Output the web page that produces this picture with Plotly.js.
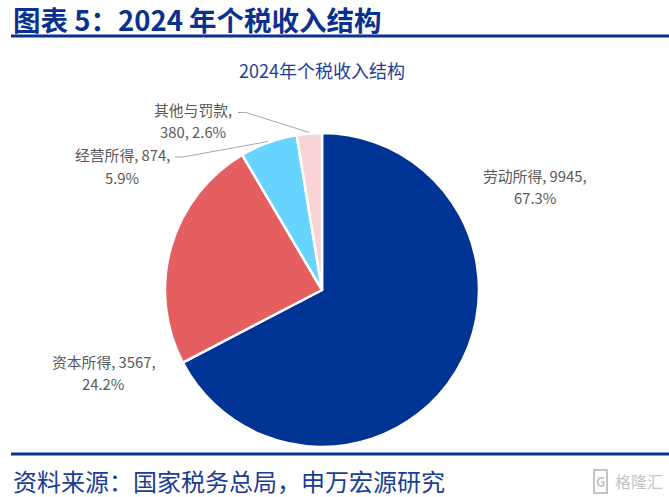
<!DOCTYPE html>
<html>
<head>
<meta charset="utf-8">
<script src="https://cdn.plot.ly/plotly-3.0.1.min.js"></script>
<style>
  html, body { margin: 0; padding: 0; background: #fff; }
  #chart { width: 669px; height: 497px; }
</style>
</head>
<body>
<div id="chart"></div>
<script>
// data
var categories = ["劳动所得", "资本所得", "经营所得", "其他与罚款"];
var values = [9945, 3567, 874, 380];
var percents = ["67.3%", "24.2%", "5.9%", "2.6%"];
var colors = ["#003494", "#E65F60", "#66D4FF", "#F8D3D6"];

var W = 669, H = 497;
function px(x) { return x / W; }
function py(y) { return 1 - y / H; }

// pie placement in pixels
var cx = 322, cy = 290, r = 157;

// label layout: centre of label block, how many parts go on line 1
var labelPos = [[535, 186], [104, 372], [122, 166], [193, 120]];
var firstLineParts = [2, 2, 2, 1];
var lineGap = 22;
// leader lines start (only the small slices have one)
var leaderStart = [null, null, [175, 157], [238, 112.5]];

var navy = "#0B318F";
var grey = "#595959";
var cjk = "Noto Sans CJK SC, Microsoft YaHei, sans-serif";

var annotations = [];
var shapes = [];

var total = values.reduce(function (a, b) { return a + b; }, 0);
var cum = 0;
for (var i = 0; i < categories.length; i++) {
  var parts = [categories[i], String(values[i]), percents[i]];
  var n = firstLineParts[i];
  var lines = [parts.slice(0, n).join(", ") + ",", parts.slice(n).join(", ")];
  for (var k = 0; k < lines.length; k++) {
    annotations.push({
      xref: "paper", yref: "paper",
      x: px(labelPos[i][0]),
      y: py(labelPos[i][1] + (k - 0.5) * lineGap),
      text: lines[k], showarrow: false,
      xanchor: "center", yanchor: "middle",
      font: { family: cjk, size: 14.8, color: grey }
    });
  }
  var mid = (cum + values[i] / 2) / total;
  cum += values[i];
  if (leaderStart[i]) {
    var th = 2 * Math.PI * mid;
    var tx = cx + (r + 1) * Math.sin(th);
    var ty = cy - (r + 1) * Math.cos(th);
    var s = leaderStart[i];
    shapes.push({
      type: "path", xref: "paper", yref: "paper",
      path: "M " + px(s[0]) + " " + py(s[1]) +
            " L " + px(s[0] + 8) + " " + py(s[1]) +
            " L " + px(tx) + " " + py(ty),
      line: { color: "#A6A6A6", width: 1 }
    });
  }
}

// header, rules, source and watermark
annotations.push({
  xref: "paper", yref: "paper", x: px(11), y: py(19.5),
  xanchor: "left", yanchor: "middle", showarrow: false,
  text: "<b>图表 5：2024 年个税收入结构</b>",
  font: { family: cjk, size: 27.5, color: navy }
});
annotations.push({
  xref: "paper", yref: "paper", x: px(11), y: py(480),
  xanchor: "left", yanchor: "middle", showarrow: false,
  text: "资料来源：国家税务总局，申万宏源研究",
  font: { family: cjk, size: 24, color: "#1A3C94" }
});
annotations.push({
  xref: "paper", yref: "paper", x: px(665), y: py(481),
  xanchor: "right", yanchor: "middle", showarrow: false,
  text: "格隆汇",
  font: { family: cjk, size: 16, color: "#C4C4C4" }
});
annotations.push({
  xref: "paper", yref: "paper", x: px(600), y: py(481),
  xanchor: "center", yanchor: "middle", showarrow: false,
  text: "<b>G</b>", bordercolor: "#C4C4C4", borderwidth: 2, borderpad: 1,
  font: { family: cjk, size: 13, color: "#C4C4C4" }
});
shapes.push({
  type: "rect", xref: "paper", yref: "paper",
  x0: px(11), x1: px(669), y0: py(37.5), y1: py(34.5),
  fillcolor: navy, line: { width: 0 }
});
shapes.push({
  type: "rect", xref: "paper", yref: "paper",
  x0: px(11), x1: px(669), y0: py(455.5), y1: py(452.5),
  fillcolor: navy, line: { width: 0 }
});

var trace = {
  type: "pie",
  labels: categories,
  values: values,
  sort: false,
  direction: "clockwise",
  rotation: 0,
  textinfo: "none",
  hoverinfo: "none",
  marker: { colors: colors, line: { color: "#ffffff", width: 2.5 } },
  domain: { x: [px(cx - r), px(cx + r)], y: [py(cy + r), py(cy - r)] }
};

var layout = {
  width: W, height: H,
  margin: { l: 0, r: 0, t: 0, b: 0 },
  paper_bgcolor: "#ffffff",
  showlegend: false,
  title: {
    text: "2024年个税收入结构",
    x: px(322), y: py(72), xanchor: "center", yanchor: "middle",
    font: { family: cjk, size: 18, color: "#1F3E96" }
  },
  annotations: annotations,
  shapes: shapes
};

Plotly.newPlot("chart", [trace], layout, { staticPlot: true });
</script>
</body>
</html>
